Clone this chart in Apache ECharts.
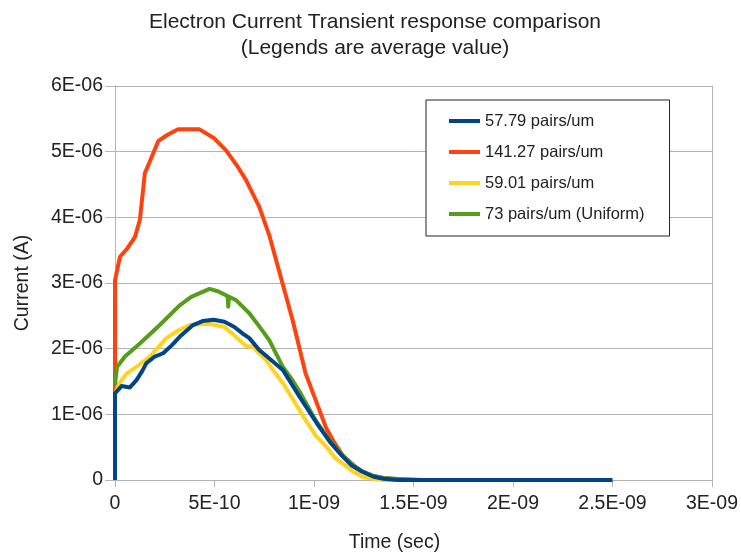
<!DOCTYPE html>
<html>
<head>
<meta charset="utf-8">
<script src="https://cdn.jsdelivr.net/npm/echarts@6/dist/echarts.min.js"></script>
<style>
  html, body { margin: 0; padding: 0; background: #fff; }
  #chart { width: 741px; height: 552px; }
</style>
</head>
<body>
<div id="chart"></div>
<script>
// time in units of 1E-10 s, current in units of 1E-06 A
const xTickLabels = ['0', '5E-10', '1E-09', '1.5E-09', '2E-09', '2.5E-09', '3E-09'];
const yTickLabels = ['0', '1E-06', '2E-06', '3E-06', '4E-06', '5E-06', '6E-06'];

const nombres = ['57.79 pairs/um', '141.27 pairs/um', '59.01 pairs/um', '73 pairs/um (Uniform)'];

const t_azul = [0, 0, 0.08, 0.33, 0.75, 1.08, 1.35, 1.58, 2.0, 2.42, 2.85, 3.25, 3.92, 4.4, 4.95, 5.5, 6.0, 6.42, 6.75, 7.25, 7.8, 8.45, 9.25, 10.15, 10.8, 11.4, 11.9, 12.4, 13.0, 13.5, 14.2, 25];
const i_azul = [0, 1.32, 1.35, 1.43, 1.41, 1.52, 1.65, 1.78, 1.88, 1.93, 2.05, 2.18, 2.36, 2.42, 2.44, 2.41, 2.33, 2.23, 2.16, 1.98, 1.84, 1.67, 1.28, 0.86, 0.58, 0.37, 0.22, 0.13, 0.05, 0.02, 0, 0];

const t_rojo = [0, 0, 0.25, 0.6, 1.0, 1.25, 1.5, 1.75, 2.17, 2.6, 3.17, 4.25, 5.0, 5.58, 6.1, 6.58, 7.25, 7.75, 8.33, 8.92, 9.58, 10.08, 10.6, 11.0, 11.45, 12.0, 12.42, 13.0, 13.5, 14.2, 15.5];
const i_rojo = [1.32, 3.04, 3.40, 3.52, 3.70, 3.96, 4.67, 4.85, 5.16, 5.25, 5.34, 5.34, 5.20, 5.02, 4.80, 4.57, 4.16, 3.73, 3.09, 2.44, 1.62, 1.22, 0.80, 0.58, 0.37, 0.22, 0.13, 0.06, 0.03, 0.01, 0];

const t_amarillo = [0, 0.17, 0.58, 1.2, 1.75, 2.58, 3.2, 3.75, 4.75, 5.5, 6.0, 6.58, 6.92, 7.58, 7.95, 8.45, 9.0, 9.58, 10.08, 10.58, 11.08, 11.58, 12.0, 12.42, 13.0, 13.5, 15.8];
const i_amarillo = [1.30, 1.45, 1.62, 1.75, 1.88, 2.16, 2.28, 2.36, 2.38, 2.33, 2.20, 2.04, 2.03, 1.83, 1.67, 1.47, 1.20, 0.91, 0.68, 0.52, 0.33, 0.22, 0.12, 0.05, 0.02, 0, 0];

const t_verde = [0, 0.1, 0.5, 1.25, 2.25, 3.25, 3.83, 4.75, 5.2, 5.66, 5.69, 5.73, 6.08, 6.75, 7.25, 7.75, 8.42, 8.92, 9.25, 10.08, 10.6, 11.42, 12.0, 12.42, 13.0, 13.42, 15.2];
const i_verde = [1.45, 1.72, 1.88, 2.08, 2.36, 2.66, 2.79, 2.91, 2.87, 2.80, 2.64, 2.79, 2.74, 2.54, 2.34, 2.13, 1.73, 1.52, 1.36, 0.91, 0.68, 0.38, 0.22, 0.13, 0.06, 0.03, 0];

const colores = ['#004586', '#ff420e', '#ffd320', '#579d1c'];

function pares(t, i) {
    return t.map((x, k) => [x, i[k]]);
}

const fuente = 'Liberation Sans';

var myChart = echarts.init(document.getElementById('chart'));
var option = {
    animation: false,
    backgroundColor: '#fff',
    title: {
        text: 'Electron Current Transient response comparison\n(Legends are average value)',
        left: 370,
        textAlign: 'center',
        top: 4,
        textStyle: {
            fontFamily: fuente,
            fontSize: 21,
            fontWeight: 'normal',
            lineHeight: 26,
            color: '#222'
        }
    },
    legend: {
        orient: 'vertical',
        left: 426,
        top: 100,
        data: nombres,
        icon: 'rect',
        itemWidth: 31,
        itemHeight: 4,
        itemGap: 11,
        padding: [11, 25, 12, 23],
        backgroundColor: '#fff',
        borderColor: '#222',
        borderWidth: 1,
        borderRadius: 0,
        textStyle: {
            fontFamily: fuente,
            fontSize: 16.5,
            lineHeight: 20,
            color: '#222'
        }
    },
    grid: {
        left: 115,
        top: 86,
        right: 29,
        bottom: 72,
        outerBoundsMode: 'none'
    },
    xAxis: {
        type: 'value',
        min: 0,
        max: 30,
        interval: 5,
        name: 'Time (sec)',
        nameLocation: 'middle',
        nameGap: 53,
        nameTextStyle: {
            fontFamily: fuente,
            fontSize: 19.5,
            color: '#222',
            padding: [0, 38, 0, 0]
        },
        axisLine: { show: true, lineStyle: { color: '#b3b3b3', width: 1 } },
        axisTick: { show: true, length: 7, lineStyle: { color: '#b3b3b3' } },
        splitLine: { show: false },
        axisLabel: {
            margin: 14,
            fontFamily: fuente,
            fontSize: 19.5,
            color: '#222',
            formatter: v => xTickLabels[Math.round(v / 5)]
        }
    },
    yAxis: [{
        type: 'value',
        min: 0,
        max: 6,
        interval: 1,
        name: 'Current (A)',
        nameLocation: 'middle',
        nameRotate: 90,
        nameGap: 82,
        nameTextStyle: {
            fontFamily: fuente,
            fontSize: 19.5,
            color: '#222'
        },
        axisLine: { show: true, lineStyle: { color: '#b3b3b3', width: 1 } },
        axisTick: { show: true, length: 10, lineStyle: { color: '#b3b3b3' } },
        splitLine: { show: true, lineStyle: { color: '#b3b3b3', width: 1 } },
        axisLabel: {
            margin: 12,
            fontFamily: fuente,
            fontSize: 19.5,
            color: '#222',
            formatter: v => yTickLabels[Math.round(v)]
        }
    }, {
        type: 'value',
        position: 'right',
        min: 0,
        max: 6,
        interval: 1,
        axisLine: { show: true, lineStyle: { color: '#b3b3b3', width: 1 } },
        axisTick: { show: false },
        axisLabel: { show: false },
        splitLine: { show: false }
    }],
    series: [
        {
            name: nombres[1],
            type: 'line',
            data: pares(t_rojo, i_rojo),
            showSymbol: false,
            color: colores[1],
            lineStyle: { width: 4, color: colores[1], join: 'round' },
            z: 2
        },
        {
            name: nombres[2],
            type: 'line',
            data: pares(t_amarillo, i_amarillo),
            showSymbol: false,
            color: colores[2],
            lineStyle: { width: 4, color: colores[2], join: 'round' },
            z: 3
        },
        {
            name: nombres[3],
            type: 'line',
            data: pares(t_verde, i_verde),
            showSymbol: false,
            color: colores[3],
            lineStyle: { width: 4, color: colores[3], join: 'round' },
            z: 4
        },
        {
            name: nombres[0],
            type: 'line',
            data: pares(t_azul, i_azul),
            showSymbol: false,
            color: colores[0],
            lineStyle: { width: 4, color: colores[0], join: 'round' },
            z: 5
        }
    ]
};
myChart.setOption(option);
</script>
</body>
</html>
